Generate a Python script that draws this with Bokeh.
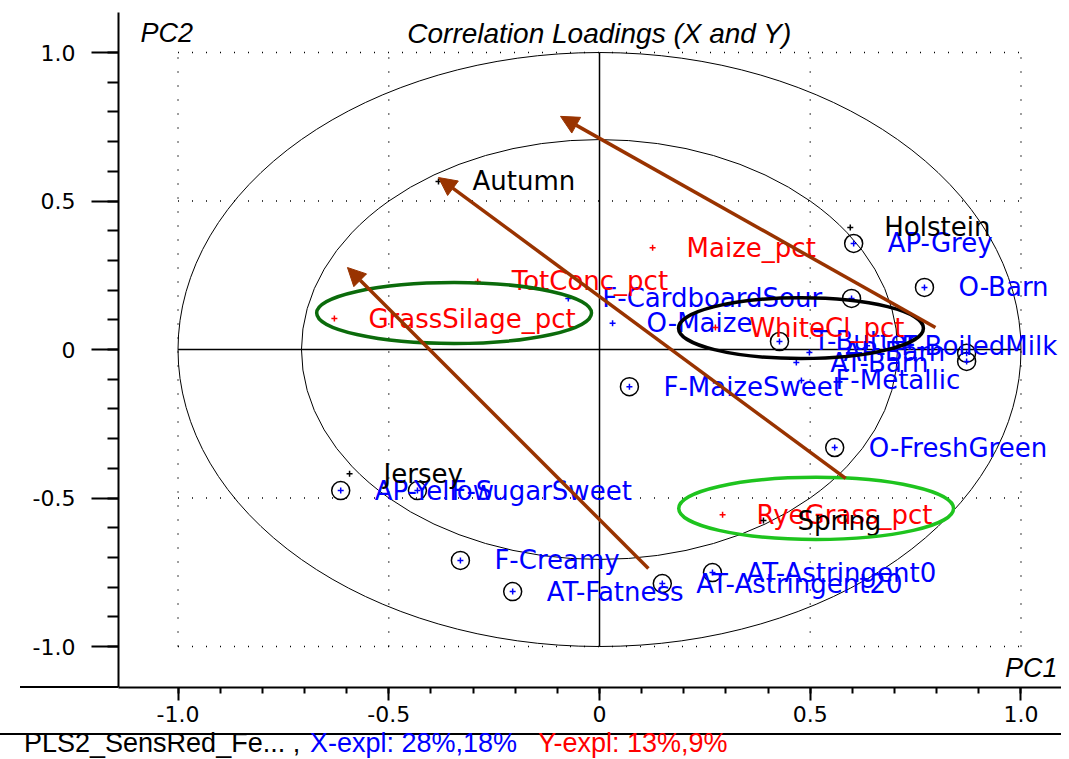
from bokeh.plotting import figure
from bokeh.models import (Range1d, FixedTicker, ColumnDataSource, Label, Arrow,
                          NormalHead, Div)
from bokeh.layouts import column
from bokeh.embed import file_html
from bokeh.resources import INLINE
from bokeh.core.properties import value

# ---------------- data ----------------
# X variables (blue)
x_names = ["AP-Grey", "O-Barn", "F-CardboardSour", "O-Maize", "T-Butter",
           "F-BoiledMilk", "AP-Barn", "AT-Barn", "F-Metallic", "F-MaizeSweet",
           "O-FreshGreen", "AP-Yellow", "F-SugarSweet", "F-Creamy", "AT-Fatness",
           "AT-Astringent20", "AT-Astringent0", "", "", ""]
x_pc1 = [0.603, 0.771, -0.074, 0.031, 0.427, 0.635, 0.498, 0.467, 0.479, 0.071,
         0.558, -0.614, -0.432, -0.330, -0.206, 0.149, 0.268, 0.598, 0.871, 0.871]
x_pc2 = [0.357, 0.209, 0.172, 0.088, 0.027, 0.013, -0.010, -0.044, -0.104, -0.125,
         -0.330, -0.475, -0.475, -0.710, -0.815, -0.788, -0.751, 0.172, -0.013, -0.040]
x_ringed = [True, True, False, False, True, False, False, False, False, True,
            True, True, True, True, True, True, True, True, True, True]

# Y variables (red)
y_names = ["Maize_pct", "TotConc_pct", "GrassSilage_pct", "WhiteCl_pct", "RyeGrass_pct"]
y_pc1 = [0.126, -0.289, -0.629, 0.275, 0.292]
y_pc2 = [0.343, 0.229, 0.104, 0.074, -0.556]

# design variables (black)
d_names = ["Holstein", "Autumn", "Jersey", "Spring"]
d_pc1 = [0.595, -0.382, -0.593, 0.389]
d_pc2 = [0.411, 0.566, -0.418, -0.576]

# ticks
tick_values = [-1.0, -0.5, 0.0, 0.5, 1.0]
tick_labels = ["-1.0", "-0.5", "0", "0.5", "1.0"]
grid_values = [-1.0, -0.5, 0.5, 1.0]
circle_radii = [1.0, 0.7071]

# annotations (hand-drawn arrows and ellipses)
arrow_x0 = [0.116, 0.584, 0.797]
arrow_y0 = [-0.737, -0.434, 0.074]
arrow_x1 = [-0.598, -0.382, -0.0925]
arrow_y1 = [0.276, 0.579, 0.785]

ell_x = [-0.345, 0.478, 0.514]
ell_y = [0.123, 0.072, -0.535]
ell_w = [0.652, 0.581, 0.652]
ell_h = [0.205, 0.205, 0.209]
ell_colors = ["#0b6b0b", "#000000", "#1ec41e"]

title_text = "Correlation Loadings (X and Y)"
footer_parts = ["PLS2_SensRed_Fe... ,", "X-expl: 28%,18%", "Y-expl: 13%,9%"]
footer_colors = ["black", "blue", "red"]

# ---------------- figure ----------------
p = figure(width=1061, height=733, title=None,
           x_range=Range1d(-1.1412, 1.0961), y_range=Range1d(-1.1380, 1.1347),
           output_backend="svg", toolbar_location=None,
           min_border_left=118, min_border_right=0, min_border_top=12,
           min_border_bottom=46)
p.outline_line_color = None
p.xgrid.grid_line_color = None
p.ygrid.grid_line_color = None
p.background_fill_color = "white"

minor = [round(-1.0 + 0.1 * i, 1) for i in range(21)]
for ax, tout, mout, sto in ((p.xaxis, 13, 6, 5), (p.yaxis, 27, 11, 16)):
    ax.ticker = FixedTicker(ticks=tick_values, minor_ticks=minor)
    ax.major_label_overrides = dict(zip(tick_values, tick_labels))
    ax.major_tick_out = tout
    ax.major_tick_in = 0
    ax.minor_tick_out = mout
    ax.minor_tick_in = 0
    ax.axis_line_width = 2
    ax.major_tick_line_width = 2
    ax.minor_tick_line_width = 2
    ax.axis_line_color = "black"
    ax.major_tick_line_color = "black"
    ax.minor_tick_line_color = "black"
    ax.major_label_text_font = "DejaVu Sans"
    ax.major_label_text_font_size = "22px"
    ax.major_label_text_color = "black"
    ax.major_label_standoff = sto

# dotted grid
gx0 = [g for g in grid_values] + [-1.0 for g in grid_values]
gx1 = [g for g in grid_values] + [1.0 for g in grid_values]
gy0 = [-1.0 for g in grid_values] + [g for g in grid_values]
gy1 = [1.0 for g in grid_values] + [g for g in grid_values]
p.segment(x0=gx0, y0=gy0, x1=gx1, y1=gy1, line_color="black", line_width=1.5,
          line_dash="1 13")
# zero lines
p.segment(x0=[-1.0, 0.0], y0=[0.0, -1.0], x1=[1.0, 0.0], y1=[0.0, 1.0],
          line_color="black", line_width=1.5)

# correlation circles
p.ellipse(x=[0.0] * len(circle_radii), y=[0.0] * len(circle_radii),
          width=[2 * r for r in circle_radii], height=[2 * r for r in circle_radii],
          fill_color=None, line_color="black", line_width=1)

LABEL_FONT = value("DejaVu Sans")
LABEL_SIZE = "26px"

# X variables
xsrc = ColumnDataSource(dict(x=x_pc1, y=x_pc2, name=x_names))
ring_src = ColumnDataSource(dict(
    x=[a for a, r in zip(x_pc1, x_ringed) if r],
    y=[b for b, r in zip(x_pc2, x_ringed) if r]))
p.scatter("x", "y", source=ring_src, marker="circle", size=18,
          fill_color=None, line_color="black", line_width=1.5)
p.scatter("x", "y", source=xsrc, marker="cross", size=6,
          line_color="blue", line_width=1.5)
p.text("x", "y", text="name", source=xsrc, x_offset=34, text_baseline="middle",
       text_font=LABEL_FONT, text_font_size=LABEL_SIZE, text_color="blue")

# Y variables
ysrc = ColumnDataSource(dict(x=y_pc1, y=y_pc2, name=y_names))
p.scatter("x", "y", source=ysrc, marker="cross", size=6,
          line_color="red", line_width=1.5)
p.text("x", "y", text="name", source=ysrc, x_offset=34, text_baseline="middle",
       text_font=LABEL_FONT, text_font_size=LABEL_SIZE, text_color="red")

# design variables
dsrc = ColumnDataSource(dict(x=d_pc1, y=d_pc2, name=d_names))
p.scatter("x", "y", source=dsrc, marker="cross", size=6,
          line_color="black", line_width=1.5)
p.text("x", "y", text="name", source=dsrc, x_offset=34, text_baseline="middle",
       text_font=LABEL_FONT, text_font_size=LABEL_SIZE, text_color="black")

# hand-drawn ellipses
p.ellipse(x=ell_x, y=ell_y, width=ell_w, height=ell_h, fill_color=None,
          line_color=ell_colors, line_width=3.5)

# arrows
brown = "#993300"
asrc = ColumnDataSource(dict(x0=arrow_x0, y0=arrow_y0, x1=arrow_x1, y1=arrow_y1))
p.add_layout(Arrow(end=NormalHead(size=18, fill_color=brown, line_color=brown),
                   x_start="x0", y_start="y0", x_end="x1", y_end="y1",
                   source=asrc, line_color=brown, line_width=3.5))

# titles
p.add_layout(Label(x=0.0, y=1.064, text=title_text, text_font="Liberation Sans",
                   text_font_style="italic", text_font_size="28px",
                   text_align="center", text_baseline="middle", text_color="black"))
p.add_layout(Label(x=-1.089, y=1.064, text="PC2", text_font="Liberation Sans",
                   text_font_style="italic", text_font_size="27px",
                   text_align="left", text_baseline="middle", text_color="black"))
p.add_layout(Label(x=1.0866, y=-1.071, text="PC1", text_font="Liberation Sans",
                   text_font_style="italic", text_font_size="27px",
                   text_align="right", text_baseline="middle", text_color="black"))

# footer (with the x-axis rule extended to the left of the frame)
spans = "".join(
    '<span style="position:absolute;left:%dpx;top:0;color:%s">%s</span>' % (lx, c, t)
    for t, c, lx in zip(footer_parts, footer_colors, [24, 310, 538]))
rule = ('<div style="position:absolute;left:20px;top:-49px;width:98px;height:2px;'
        'background:black"></div>')
footer_html = ('<div style="position:relative;width:1061px;height:16px;'
               'border-top:2px solid black;font-family:\'Liberation Sans\',Arial,sans-serif;'
               'font-size:27px;line-height:16px;white-space:nowrap;">%s%s</div>'
               % (rule, spans))
footer = Div(text=footer_html, width=1061, height=18, margin=(0, 0, 0, 0))

layout = column(p, footer, spacing=0)
open("out.html", "w").write(file_html(layout, INLINE))
